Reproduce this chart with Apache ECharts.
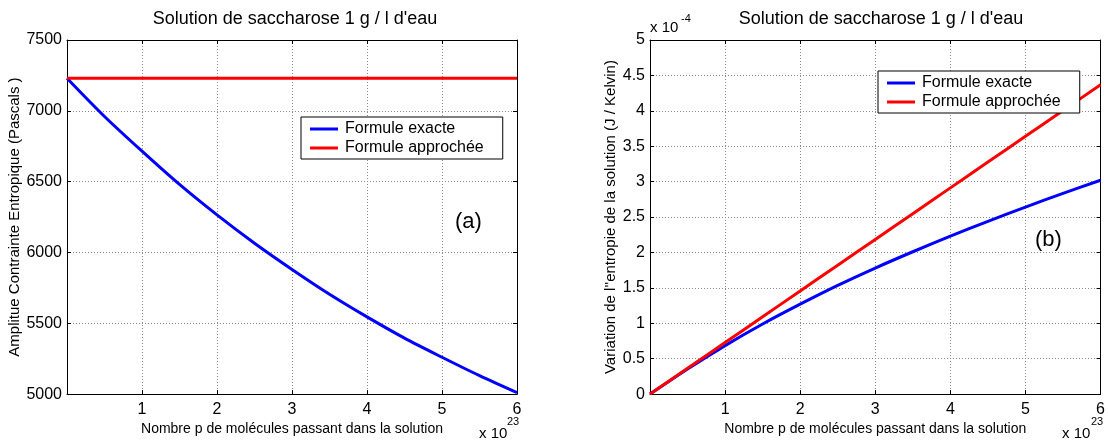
<!DOCTYPE html>
<html>
<head>
<meta charset="utf-8">
<script src="https://cdn.jsdelivr.net/npm/echarts@6/dist/echarts.min.js"></script>
<style>
html,body{margin:0;padding:0;background:#fff;}
#chart{width:1108px;height:441px;}
</style>
</head>
<body>
<div id="chart"></div>
<script>
// x values in units of 1e23 molecules
const xValues = [0, 0.5, 1, 1.5, 2, 2.5, 3, 3.5, 4, 4.5, 5, 5.5, 6];
// (a) pressure, Pascals
const pressureExact  = [7230, 6960, 6715, 6480, 6265, 6065, 5880, 5705, 5545, 5395, 5260, 5130, 5010];
const pressureApprox = [7230, 7230, 7230, 7230, 7230, 7230, 7230, 7230, 7230, 7230, 7230, 7230, 7230];
// (b) entropy variation, units of 1e-4 J/K
const entropyExact  = [0, 0.355, 0.685, 0.99, 1.27, 1.535, 1.78, 2.01, 2.23, 2.44, 2.64, 2.835, 3.02];
const entropyApprox = [0, 0.364, 0.728, 1.092, 1.456, 1.82, 2.184, 2.548, 2.912, 3.276, 3.64, 4.004, 4.368];
const xTicks = [0, 1, 2, 3, 4, 5, 6];
const pressureTicks = [5000, 5500, 6000, 6500, 7000, 7500];
const entropyTicks = [0, 0.5, 1, 1.5, 2, 2.5, 3, 3.5, 4, 4.5, 5];

const seriesNames = ['Formule exacte', 'Formule approchée'];
const titleText = "Solution de saccharose 1 g / l d'eau";
const xName = 'Nombre p de molécules passant dans la solution';

const FONT = '"Liberation Sans", Arial, sans-serif';
const pair = (xs, ys) => xs.map((x, i) => [x, ys[i]]);

const gridLine = {show: true, lineStyle: {color: '#8a8a8a', type: [1, 2], width: 1}};
const axLine = {show: true, onZero: false, lineStyle: {color: '#000', width: 1}};
const tick = {show: true, inside: true, length: 4, lineStyle: {color: '#000'}};

function xAx(grid, pos, main) {
  return {
    type: 'value', gridIndex: grid, position: pos,
    min: xTicks[0], max: xTicks[xTicks.length - 1], interval: 1,
    axisLine: axLine, axisTick: tick,
    splitLine: main ? gridLine : {show: false},
    axisLabel: main ? {show: true, color: '#000', fontSize: 16, fontFamily: FONT, margin: 7,
      formatter: v => (v === 0 ? '' : String(v))} : {show: false},
    name: main ? xName : '', nameLocation: 'middle', nameGap: 22,
    nameTextStyle: {color: '#000', fontSize: 14, fontFamily: FONT}
  };
}
function yAx(grid, pos, main, ticks, name, gap) {
  return {
    type: 'value', gridIndex: grid, position: pos,
    min: ticks[0], max: ticks[ticks.length - 1], interval: ticks[1] - ticks[0],
    axisLine: axLine, axisTick: tick,
    splitLine: main ? gridLine : {show: false},
    axisLabel: main ? {show: true, color: '#000', fontSize: 16, fontFamily: FONT, margin: 5,
      formatter: v => String(v)} : {show: false},
    name: main ? name : '', nameLocation: 'middle', nameGap: gap,
    nameTextStyle: {color: '#000', fontSize: 15, fontFamily: FONT}
  };
}

function line(name, xi, yi, data, color) {
  return {
    name, type: 'line', xAxisIndex: xi, yAxisIndex: yi, data,
    symbol: 'none', smooth: 0.3, lineStyle: {color, width: 3}, itemStyle: {color},
    animation: false, z: 3
  };
}

const legendStyle = {
  orient: 'vertical', data: seriesNames, icon: 'rect', itemWidth: 28, itemHeight: 3, itemGap: 3,
  borderColor: '#000', borderWidth: 1, backgroundColor: '#fff', borderRadius: 0,
  padding: [4, 19, 3, 9], selectedMode: false,
  textStyle: {color: '#000', fontSize: 16, fontFamily: FONT, padding: [0, 0, 0, 2]}
};

const chart = echarts.init(document.getElementById('chart'), null, {renderer: 'canvas'});
chart.setOption({
  backgroundColor: '#fff',
  animation: false,
  title: [
    {text: titleText, left: 290, top: 5, textAlign: 'center',
      textStyle: {color: '#000', fontSize: 18, fontWeight: 'normal', fontFamily: FONT}},
    {text: titleText, left: 876, top: 5, textAlign: 'center',
      textStyle: {color: '#000', fontSize: 18, fontWeight: 'normal', fontFamily: FONT}}
  ],
  grid: [
    {left: 67, right: 1108 - 517, top: 40, bottom: 46, containLabel: false},
    {left: 650, right: 3, top: 40, bottom: 46, containLabel: false}
  ],
  xAxis: [xAx(0, 'bottom', true), xAx(0, 'top', false), xAx(1, 'bottom', true), xAx(1, 'top', false)],
  yAxis: [
    yAx(0, 'left', true, pressureTicks, 'Amplitue Contrainte Entropique (Pascals )', 35),
    yAx(0, 'right', false, pressureTicks, '', 0),
    yAx(1, 'left', true, entropyTicks, "Variation de l''entropie de la solution (J / Kelvin)", 25),
    yAx(1, 'right', false, entropyTicks, '', 0)
  ],
  legend: [
    Object.assign({left: 301, top: 117}, legendStyle),
    Object.assign({left: 878, top: 71}, legendStyle)
  ],
  series: [
    line(seriesNames[0], 0, 0, pair(xValues, pressureExact), '#0000ff'),
    line(seriesNames[1], 0, 0, pair(xValues, pressureApprox), '#ff0000'),
    line(seriesNames[0], 2, 2, pair(xValues, entropyExact), '#0000ff'),
    line(seriesNames[1], 2, 2, pair(xValues, entropyApprox), '#ff0000')
  ],
  graphic: [
    {type: 'text', left: 455, top: 211, style: {text: '(a)', fontSize: 22, fontFamily: FONT, fill: '#000'}},
    {type: 'text', left: 1035, top: 229, style: {text: '(b)', fontSize: 22, fontFamily: FONT, fill: '#000'}},
    {type: 'text', left: 479, top: 426, style: {text: 'x 10', fontSize: 15, fontFamily: FONT, fill: '#000'}},
    {type: 'text', left: 507, top: 416, style: {text: '23', fontSize: 11, fontFamily: FONT, fill: '#000'}},
    {type: 'text', left: 1062, top: 426, style: {text: 'x 10', fontSize: 15, fontFamily: FONT, fill: '#000'}},
    {type: 'text', left: 1091, top: 416, style: {text: '23', fontSize: 11, fontFamily: FONT, fill: '#000'}},
    {type: 'text', left: 650, top: 20, style: {text: 'x 10', fontSize: 15, fontFamily: FONT, fill: '#000'}},
    {type: 'text', left: 681, top: 13, style: {text: '-4', fontSize: 11, fontFamily: FONT, fill: '#000'}}
  ]
});
</script>
</body>
</html>
